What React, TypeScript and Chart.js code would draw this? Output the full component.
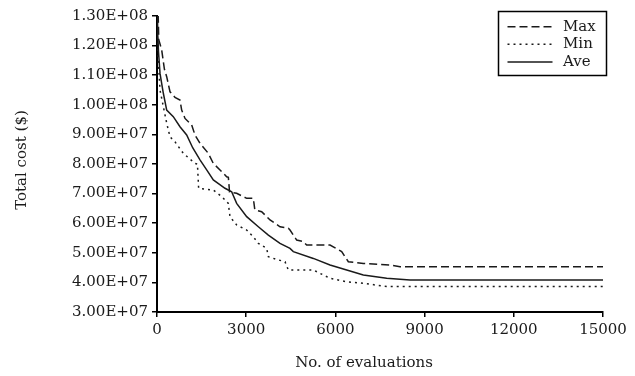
import React, { useEffect, useRef } from "react";
import { Chart, registerables } from "chart.js";

Chart.register(...registerables);

// Max (dashed) series: evaluation counts and total cost (millions $)
const maxX = [0, 40, 60, 158, 250, 326, 437, 605, 773, 830, 942, 1166, 1278, 1446, 1726, 1894, 2119, 2343, 2400, 2440, 2679, 3016, 3240, 3290, 3520, 3801, 4137, 4417, 4473, 4698, 4922, 5034, 5819, 6211, 6435, 6939, 7837, 8173, 15000];
const maxY = [130, 130, 122, 118.5, 112, 109.5, 104.4, 102.5, 101.6, 98.2, 95.4, 93.2, 89.8, 87, 83.6, 80.2, 78, 75.7, 75.5, 70.5, 70.1, 68.4, 68.4, 64.5, 63.9, 61.1, 58.8, 58.3, 57.7, 54.3, 53.8, 52.6, 52.6, 50.4, 47, 46.4, 45.9, 45.3, 45.3];

// Min (dotted) series
const minX = [0, 20, 44, 101, 213, 326, 437, 605, 885, 1278, 1360, 1400, 1894, 2175, 2398, 2455, 2679, 3016, 3240, 3408, 3689, 3745, 4000, 4305, 4417, 5258, 5594, 5819, 6380, 6939, 7725, 15000];
const minY = [127, 120, 115, 105, 99.4, 93.8, 89.2, 87.5, 83.6, 80.2, 80, 71.8, 71.2, 69, 66.7, 62.2, 59.4, 57.7, 55.4, 53.2, 51.5, 48.7, 47.8, 47, 44.2, 44.2, 42.5, 41.4, 40.2, 39.7, 38.6, 38.6];

// Ave (solid) series
const aveX = [0, 20, 50, 101, 213, 326, 548, 773, 998, 1200, 1446, 1671, 1894, 2287, 2511, 2679, 3016, 3408, 3745, 4137, 4473, 4585, 5258, 5819, 6380, 6939, 7725, 8510, 15000];
const aveY = [130, 125, 118, 110.6, 103.9, 98.2, 96, 92.6, 89.8, 85.5, 81.4, 78, 74.6, 71.8, 70.6, 66.7, 62.2, 58.8, 56, 53.2, 51.5, 50.4, 48.1, 45.9, 44.2, 42.5, 41.4, 40.8, 40.8];

const seriesLabels = ["Max", "Min", "Ave"];
const xTitle = "No. of evaluations";
const yTitle = "Total cost ($)";

const FONT = '"DejaVu Serif", "Liberation Serif", serif';
const INK = "#1a1a1a";

function toPoints(xs: number[], ys: number[]) {
  return xs.map((x, i) => ({ x, y: ys[i] * 1e6 }));
}

function fmtSci(v: number) {
  const e = Math.floor(Math.log10(v) + 1e-9);
  const m = v / Math.pow(10, e);
  return m.toFixed(2) + "E+" + String(e).padStart(2, "0");
}

const decorPlugin = {
  id: "decor",
  afterDraw(chart: any) {
    const ctx = chart.ctx;
    ctx.save();
    ctx.fillStyle = INK;
    ctx.font = `15px ${FONT}`;
    ctx.textBaseline = "middle";
    ctx.textAlign = "center";
    ctx.fillText(xTitle, 364, 363);
    ctx.save();
    ctx.translate(22, 160);
    ctx.rotate(-Math.PI / 2);
    ctx.fillText(yTitle, 0, 0);
    ctx.restore();
    ctx.strokeStyle = "#000";
    ctx.lineWidth = 1.5;
    ctx.strokeRect(498.5, 11.5, 108, 64);
    const ys = [26.7, 44.3, 62];
    chart.data.datasets.forEach((ds: any, i: number) => {
      ctx.beginPath();
      ctx.setLineDash(ds.borderDash || []);
      ctx.lineWidth = ds.borderWidth;
      ctx.strokeStyle = ds.borderColor;
      ctx.moveTo(507.5, ys[i]);
      ctx.lineTo(552.5, ys[i]);
      ctx.stroke();
      ctx.setLineDash([]);
      ctx.textAlign = "left";
      ctx.fillText(ds.label, 563, ys[i]);
    });
    ctx.restore();
  },
};

export default function App() {
  const ref = useRef<HTMLCanvasElement>(null);
  useEffect(() => {
    if (!ref.current) return;
    const common = { borderColor: INK, pointRadius: 0, fill: false, tension: 0, borderWidth: 1.5 };
    const chart = new Chart(ref.current, {
      type: "line",
      data: {
        datasets: [
          { ...common, label: seriesLabels[0], data: toPoints(maxX, maxY), borderDash: [8, 4] },
          { ...common, label: seriesLabels[1], data: toPoints(minX, minY), borderDash: [2, 4] },
          { ...common, label: seriesLabels[2], data: toPoints(aveX, aveY) },
        ],
      },
      options: {
        animation: false,
        responsive: false,
        devicePixelRatio: 1,
        layout: { padding: { top: 16, right: 32, left: 0, bottom: 0 } },
        plugins: { legend: { display: false }, tooltip: { enabled: false } },
        scales: {
          x: {
            type: "linear",
            min: 0,
            max: 15000,
            afterFit: (s: any) => { s.height = 64; },
            ticks: { stepSize: 3000, color: INK, font: { family: FONT, size: 15 }, padding: 4, maxRotation: 0, callback: (v: any) => String(v) },
            grid: { display: true, drawOnChartArea: false, drawTicks: true, tickLength: 5, color: "#000", lineWidth: 1.5 },
            border: { display: true, color: "#000", width: 2 },
          },
          y: {
            type: "linear",
            min: 3e7,
            max: 1.3e8,
            afterFit: (s: any) => { s.width = 157; },
            ticks: { stepSize: 1e7, color: INK, font: { family: FONT, size: 15 }, padding: 4, callback: (v: any) => fmtSci(Number(v)) },
            grid: { display: true, drawOnChartArea: false, drawTicks: true, tickLength: 5, color: "#000", lineWidth: 1.5 },
            border: { display: true, color: "#000", width: 2 },
          },
        },
      },
      plugins: [decorPlugin],
    });
    return () => chart.destroy();
  }, []);
  return (
    <div style={{ position: "fixed", left: 0, top: 0, width: 635, height: 376, background: "#fff" }}>
      <canvas ref={ref} width={635} height={376} />
    </div>
  );
}
